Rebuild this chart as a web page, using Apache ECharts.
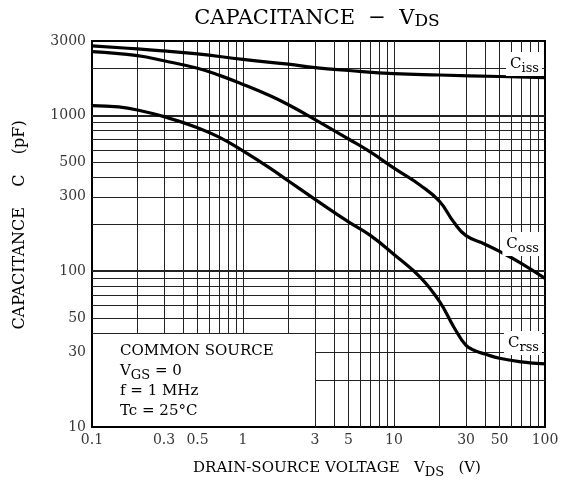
<!DOCTYPE html>
<html><head><meta charset="utf-8">
<script src="https://cdn.jsdelivr.net/npm/echarts@6/dist/echarts.min.js"></script>
<style>html,body{margin:0;padding:0;background:#fff}#c{width:567px;height:495px}</style>
</head><body><div id="c"></div>
<script>
// ---- data ----
const cissX = [0.1,0.2,0.3,0.5,1,2,3,5,10,20,50,100];
const cissY = [2790,2670,2590,2480,2285,2130,2025,1940,1850,1815,1775,1745];
const cossX = [0.1,0.2,0.3,0.5,0.7,1,1.5,2,3,5,7,10,15,20,25,30,40,50,70,100];
const cossY = [2565,2415,2240,2005,1805,1580,1340,1170,940,705,580,458,355,281,205,169,149,134,112,90];
const crssX = [0.1,0.15,0.2,0.3,0.5,0.7,1,1.5,2,3,5,7,10,15,20,25,30,35,40,50,70,100];
const crssY = [1154,1132,1083,981,834,722,591,460,379,289,207,169,128,91,64,43.5,33.4,30.7,29.4,27.6,26.2,25.4];

const xTickLabels = [0.1,0.3,0.5,1,3,5,10,30,50,100];
const yTickLabels = [10,30,50,100,300,500,1000,3000];
const xGrid = [0.2,0.3,0.4,0.5,0.6,0.7,0.8,0.9,1,2,3,4,5,6,7,8,9,10,20,30,40,50,60,70,80,90];
const yGrid = [20,30,40,50,60,70,80,90,100,200,300,400,500,600,700,800,900,1000,2000];
const yMajor = [100,1000];
const xMin = 0.1, xMax = 100, yMin = 10, yMax = 3000;
const boxX = 3, boxY = 40; // condition box corner (data units)

const zip = (a, b) => a.map((v, i) => [v, b[i]]);
const FONT = 'DejaVu Serif';

const gridLines = [];
xGrid.forEach(x => gridLines.push([{coord: [x, x < boxX ? boxY : yMin]}, {coord: [x, yMax]}]));
yGrid.forEach(y => gridLines.push([
  {coord: [y < boxY ? boxX : xMin, y], lineStyle: {width: yMajor.includes(y) ? 1.8 : 1}},
  {coord: [xMax, y]}]));

const curve = (name, d) => ({
  name, type: 'line', data: d, showSymbol: false, smooth: 0.45, z: 5,
  lineStyle: {color: '#000', width: 3.2}, silent: true, animation: false
});

const sub = (m, s) => ({
  m: {fontFamily: FONT, fontSize: m, color: '#000', lineHeight: 22},
  s: {fontFamily: FONT, fontSize: s, color: '#000', lineHeight: 12, verticalAlign: 'bottom'}
});

const chart = echarts.init(document.getElementById('c'));
chart.setOption({
  animation: false,
  backgroundColor: '#fff',
  grid: {left: 92, right: 22, top: 41, bottom: 68, show: true, borderColor: '#000', borderWidth: 2, backgroundColor: 'transparent'},
  xAxis: {type: 'log', logBase: 10, min: xMin, max: xMax,
    axisLabel: {show: false}, axisTick: {show: false}, axisLine: {show: false}, splitLine: {show: false}},
  yAxis: {type: 'log', logBase: 10, min: yMin, max: yMax,
    axisLabel: {show: false}, axisTick: {show: false}, axisLine: {show: false}, splitLine: {show: false}},
  series: [
    {type: 'scatter', data: xTickLabels.map(v => [v, yMin]), symbolSize: 0, clip: false, silent: true, z: 1,
      label: {show: true, position: 'bottom', distance: 6, fontFamily: FONT, fontSize: 14, color: '#000',
        formatter: p => String(xTickLabels[p.dataIndex])},
      markLine: {silent: true, symbol: 'none', animation: false, label: {show: false},
        lineStyle: {color: '#222', width: 1, type: 'solid'}, data: gridLines}},
    {type: 'scatter', data: yTickLabels.map(v => [xMin, v]), symbolSize: 0, clip: false, silent: true, z: 1,
      label: {show: true, position: 'left', distance: 6, fontFamily: FONT, fontSize: 14, color: '#000',
        formatter: p => String(yTickLabels[p.dataIndex])}},
    curve('Ciss', zip(cissX, cissY)),
    curve('Coss', zip(cossX, cossY)),
    curve('Crss', zip(crssX, crssY))
  ],
  graphic: [
    {type: 'text', x: 317, y: 19, z: 10, style: {text: '{m|CAPACITANCE  −  V}{s|DS}', rich: sub(21, 17), align: 'center', verticalAlign: 'middle'}},
    {type: 'text', x: 337, y: 468, z: 10, style: {text: '{m|DRAIN-SOURCE VOLTAGE   V}{s|DS}{m|   (V)}', rich: sub(15, 13), align: 'center', verticalAlign: 'middle'}},
    {type: 'text', x: 20, y: 225, rotation: Math.PI / 2, z: 10, style: {text: 'CAPACITANCE    C    (pF)', font: '16px "DejaVu Serif"', fill: '#000', align: 'center', verticalAlign: 'middle'}},
    {type: 'text', x: 120, y: 351, z: 10, style: {text: 'COMMON SOURCE', font: '15px "DejaVu Serif"', fill: '#000', align: 'left', verticalAlign: 'middle'}},
    {type: 'text', x: 120, y: 371, z: 10, style: {text: '{m|V}{s|GS}{m| = 0}', rich: sub(15, 13), align: 'left', verticalAlign: 'middle'}},
    {type: 'text', x: 120, y: 391, z: 10, style: {text: 'f = 1 MHz', font: '15px "DejaVu Serif"', fill: '#000', align: 'left', verticalAlign: 'middle'}},
    {type: 'text', x: 120, y: 411, z: 10, style: {text: 'Tc = 25°C', font: '15px "DejaVu Serif"', fill: '#000', align: 'left', verticalAlign: 'middle'}},
    {type: 'text', x: 542, y: 64, z: 10, style: {text: '{m|C}{s|iss}', rich: sub(15, 13), align: 'right', verticalAlign: 'middle', backgroundColor: '#fff', padding: [1, 3, 1, 4]}},
    {type: 'text', x: 542, y: 244, z: 10, style: {text: '{m|C}{s|oss}', rich: sub(15, 13), align: 'right', verticalAlign: 'middle', backgroundColor: '#fff', padding: [1, 3, 1, 4]}},
    {type: 'text', x: 542, y: 343, z: 10, style: {text: '{m|C}{s|rss}', rich: sub(15, 13), align: 'right', verticalAlign: 'middle', backgroundColor: '#fff', padding: [1, 3, 1, 4]}}
  ]
});
</script></body></html>
